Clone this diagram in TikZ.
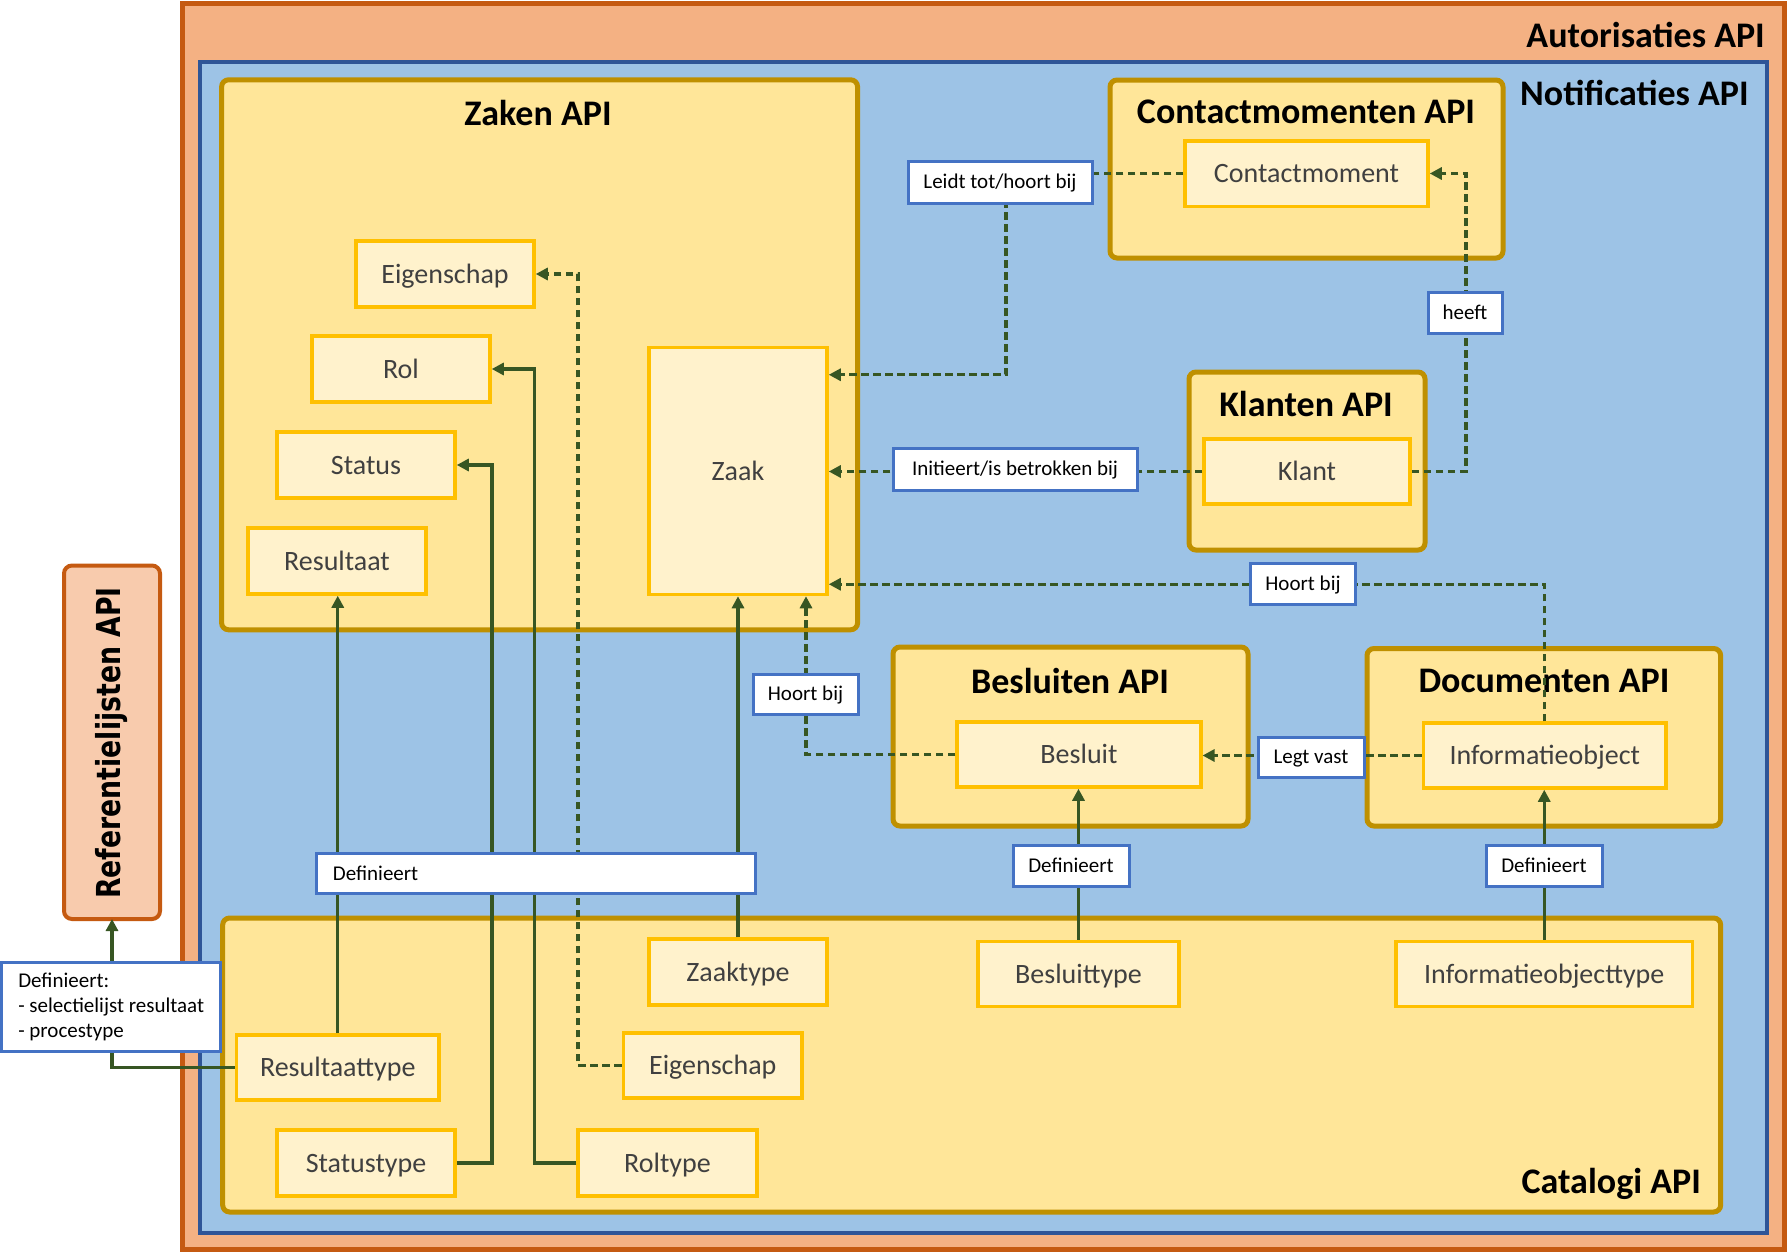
\documentclass[tikz,border=0pt]{standalone}
\usepackage{fontspec}
\setmainfont{Carlito}
\newfontfamily\reffont{DejaVu Sans}
\usetikzlibrary{arrows.meta,calc}
\definecolor{orFill}{HTML}{F4B183}
\definecolor{orLine}{HTML}{C55A11}
\definecolor{blFill}{HTML}{9DC3E6}
\definecolor{blLine}{HTML}{2F5597}
\definecolor{apiFill}{HTML}{FFE699}
\definecolor{apiLine}{HTML}{BF9000}
\definecolor{inFill}{HTML}{FFF2CC}
\definecolor{inLine}{HTML}{FFC000}
\definecolor{labLine}{HTML}{4472C4}
\definecolor{connC}{HTML}{375623}
\definecolor{refFill}{HTML}{F8CBAD}
\definecolor{txtGray}{HTML}{404040}
\begin{document}
\begin{tikzpicture}[x=1pt,y=-1pt,
  container/.style={inner sep=0pt, outer sep=0pt},
  apibox/.style={container, draw=apiLine, fill=apiFill, line width=5pt, rounded corners=7pt},
  inbox/.style={draw=inLine, fill=inFill, line width=3.5pt, text=txtGray,
    font=\fontsize{28}{34}\selectfont, text height=20pt, text depth=2pt,
    inner sep=0pt, minimum width=178pt, minimum height=66pt},
  lab/.style={draw=labLine, fill=white, line width=3pt,
    font=\fontsize{21}{25}\selectfont, text height=15pt, text depth=1.5pt, inner sep=0pt},
  ttl/.style={font=\bfseries\fontsize{36}{43}\selectfont, inner sep=0pt},
  conn/.style={draw=connC, line width=3.3pt},
  dconn/.style={conn, dash pattern=on 7.5pt off 4.5pt},
  tip/.style={-{Triangle[length=12pt,width=12pt]}}
]
\useasboundingbox (0,0) rectangle (1791,1253);

% containers
\node[container, draw=orLine, fill=orFill, line width=4.5pt, minimum width=1602pt, minimum height=1246pt] (autapi) at (983.5,626.4) {};
\node[container, draw=blLine, fill=blFill, line width=4.5pt, minimum width=1567pt, minimum height=1171pt] (notapi) at (983.5,647.5) {};
\node[apibox, minimum width=636pt, minimum height=550pt] (zakenapi) at (539.6,354.8) {};
\node[apibox, minimum width=393pt, minimum height=178pt] (cmapi) at (1306.5,169) {};
\node[apibox, minimum width=236pt, minimum height=178pt] (klapi) at (1307,461) {};
\node[apibox, minimum width=355pt, minimum height=179pt] (besapi) at (1070.5,736.5) {};
\node[apibox, minimum width=353.6pt, minimum height=177.5pt] (docapi) at (1543.8,737.25) {};
\node[apibox, minimum width=1498pt, minimum height=294pt] (catapi) at (971.65,1065) {};
\node[container, draw=orLine, fill=refFill, line width=4pt, rounded corners=8pt, minimum width=96pt, minimum height=353.5pt] (refapi) at (112,742.25) {};

% titles
\node[ttl, anchor=east] (tAut) at (1765,35) {Autorisaties API};
\node[ttl, anchor=east] (tNot) at (1749,93) {Notificaties API};
\node[ttl] (tZak) at (538,113) {Zaken API};
\node[ttl] (tCm) at (1306,112) {Contactmomenten API};
\node[ttl] (tKl) at (1306,404) {Klanten API};
\node[ttl] (tBes) at (1070,681) {Besluiten API};
\node[ttl] (tDoc) at (1544,681) {Documenten API};
\node[ttl, anchor=base east] (tCat) at (1701,1193.5) {Catalogi API};
\node[inner sep=0pt, rotate=90] (tRef) at (112,743) {\scalebox{0.81}[1]{\reffont\bfseries\fontsize{33}{40}\selectfont Referentielijsten API}};

% inner boxes
\node[inbox] (eigZ) at (445,274) {Eigenschap};
\node[inbox] (rol) at (401,369) {Rol};
\node[inbox] (status) at (366,465) {Status};
\node[inbox] (res) at (337,561) {Resultaat};
\node[inbox, minimum height=247pt] (zaak) at (738,471) {Zaak};
\node[inbox, minimum width=243pt, minimum height=65.5pt] (cm) at (1306.5,173.5) {Contactmoment};
\node[inbox, minimum width=206pt, minimum height=65pt] (klant) at (1307,471.5) {Klant};
\node[inbox, minimum width=243.6pt, minimum height=65pt] (besluit) at (1079,754.5) {Besluit};
\node[inbox, minimum width=242.5pt, minimum height=65pt] (io) at (1544.75,755.5) {Informatieobject};
\node[inbox] (zaakt) at (738,972) {Zaaktype};
\node[inbox, minimum width=178.5pt, minimum height=65pt] (eigC) at (712.75,1065.5) {Eigenschap};
\node[inbox, minimum width=202.5pt, minimum height=65pt] (rest) at (337.75,1067.5) {Resultaattype};
\node[inbox] (statt) at (366,1163) {Statustype};
\node[inbox, minimum width=179pt] (rolt) at (667.5,1163) {Roltype};
\node[inbox, minimum width=201pt, minimum height=65pt] (besluitt) at (1078.5,974) {Besluittype};
\node[inbox, minimum width=296.5pt, minimum height=65pt] (iot) at (1544.25,974) {Informatieobjecttype};

% bend coordinates
\coordinate (eigbend) at (578,1065.5);
\coordinate (rolbend) at (534.5,1163);
\coordinate (statbend) at (492,1163);
\coordinate (leidtbend) at (1006,173.5);
\coordinate (heeftbend) at (1466,173.5);
\coordinate (zaakin1) at ($(zaak.north east)+(0,29)$);
\coordinate (zaakin3) at ($(zaak.south east)+(0,-12)$);
\coordinate (zaakin4) at ($(zaak.south)+(68,0)$);

% connectors (solid)
\draw[conn, tip] (rest.north) -- (rest.north |- res.south);
\draw[conn, tip] (zaakt.north) -- (zaak.south);
\draw[conn, tip] (besluitt.north) -- (besluitt.north |- besluit.south);
\draw[conn, tip] (iot.north) -- (iot.north |- io.south);
\draw[conn, tip] (rest.west) -| (refapi.south);
\draw[conn, tip] (rolt.west) -- (rolbend) |- (rol.east);
\draw[conn, tip] (statt.east) -- (statbend) |- (status.east);

% connectors (dashed)
\draw[dconn, tip] (eigC.west) -- (eigbend) |- (eigZ.east);
\draw[dconn, tip] (io.west) -- (io.west -| besluit.east);
\draw[dconn, tip] (klant.west) -- (klant.west -| zaak.east);
\draw[dconn, tip] (cm.west) -- (leidtbend) |- (zaakin1);
\draw[dconn, tip] (klant.east) -| (heeftbend) -- (cm.east);
\draw[dconn, tip] (io.north) |- (zaakin3);
\draw[dconn, tip] (besluit.west) -| (zaakin4);

% labels
\node[lab, minimum width=184pt, minimum height=42pt] (leidt) at (1000,182) {Leidt tot/hoort bij};
\node[lab, minimum width=74pt, minimum height=41pt] (heeft) at (1465,312.5) {heeft};
\node[lab, minimum width=244pt, minimum height=42pt] (init) at (1015,469) {Initieert/is betrokken bij};
\node[lab, minimum width=104.5pt, minimum height=41pt] (hb1) at (1303,583.5) {Hoort bij};
\node[lab, minimum width=105pt, minimum height=40pt] (hb2) at (805.5,694) {Hoort bij};
\node[lab, minimum width=106pt, minimum height=40pt] (legt) at (1311,757) {Legt vast};
\node[lab, minimum width=116pt, minimum height=41pt] (defb) at (1071,865.5) {Definieert};
\node[lab, minimum width=116pt, minimum height=41pt] (defd) at (1544,865.5) {Definieert};
\node[lab, minimum height=40pt, text width=407pt, inner xsep=16pt, align=left] (deflong) at (536.35,873.3) {Definieert};
\node[draw=labLine, fill=white, line width=3pt, inner xsep=16pt, inner ysep=0pt,
  minimum width=219pt, minimum height=89pt, align=left,
  font=\fontsize{21}{25}\selectfont] (defref) at (111.2,1007.2) {Definieert:\\- selectielijst resultaat\\- procestype};
\end{tikzpicture}
\end{document}
